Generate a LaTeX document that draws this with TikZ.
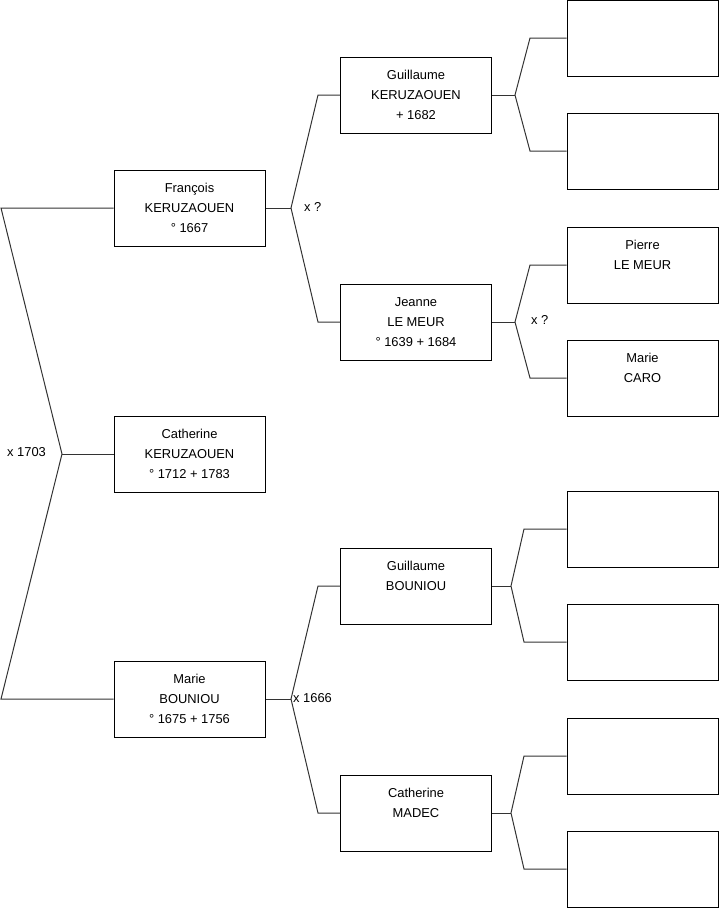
\documentclass[tikz,border=0pt]{standalone}
\usepackage{fontspec}
\setmainfont{Liberation Sans}
\usepackage{tikz}
\usetikzlibrary{positioning}
\definecolor{linkgray}{HTML}{333333}

\begin{document}
\begin{tikzpicture}[
  x=1pt, y=-1pt,
  font=\fontsize{12.9}{20}\selectfont,
  personbox/.style={
    draw=black,
    fill=white,
    line width=1pt,
    minimum width=151pt,
    minimum height=76pt,
    inner sep=2pt,
    align=center
  },
  link/.style={draw=linkgray, line width=1pt, line join=miter},
  union/.style={anchor=west, inner sep=0pt}
]
  \useasboundingbox (0,0) rectangle (719,908);

  % --- GENERATION 1 ---
  \node[personbox] (cath)  at (189.5,454) {Catherine\\KERUZAOUEN\\° 1712 + 1783};
  \node[personbox] (franc) at (189.5,208) {François\\KERUZAOUEN\\° 1667};
  \node[personbox] (marie) at (189.5,699) {Marie\\BOUNIOU\\° 1675 + 1756};

  % --- GENERATION 2 ---
  \node[personbox] (guilK)  at (416,95)  {Guillaume\\KERUZAOUEN\\+ 1682};
  \node[personbox] (jeanne) at (416,322) {Jeanne\\LE MEUR\\° 1639 + 1684};
  \node[personbox] (guilB)  at (416,586) {Guillaume\\BOUNIOU\\~};
  \node[personbox] (cathM)  at (416,813) {Catherine\\MADEC\\~};

  % --- GENERATION 3 ---
  \node[personbox] (e1)     at (642.5,38)  {};
  \node[personbox] (e2)     at (642.5,151) {};
  \node[personbox] (pierre) at (642.5,265) {Pierre\\LE MEUR\\~};
  \node[personbox] (marieC) at (642.5,378) {Marie\\CARO\\~};
  \node[personbox] (e3)     at (642.5,529) {};
  \node[personbox] (e4)     at (642.5,642) {};
  \node[personbox] (e5)     at (642.5,756) {};
  \node[personbox] (e6)     at (642.5,869) {};

  % Bracket vertices and corners
  \coordinate (v0) at (62,454);
  \coordinate (t0) at (1,208);
  \coordinate (b0) at (1,699);
  \coordinate (v1) at (291,208);
  \coordinate (t1) at (318,95);
  \coordinate (b1) at (318,322);
  \coordinate (v2) at (291,699);
  \coordinate (t2) at (318,586);
  \coordinate (b2) at (318,813);
  \coordinate (v3) at (515,95);
  \coordinate (t3) at (530,38);
  \coordinate (b3) at (530,151);
  \coordinate (v4) at (515,322);
  \coordinate (t4) at (530,265);
  \coordinate (b4) at (530,378);
  \coordinate (v5) at (511,586);
  \coordinate (t5) at (524,529);
  \coordinate (b5) at (524,642);
  \coordinate (v6) at (511,813);
  \coordinate (t6) at (524,756);
  \coordinate (b6) at (524,869);

  % Parent links
  \draw[link] (franc.west) -- (t0) -- (v0) -- (b0) -- (marie.west);
  \draw[link] (v0) -- (cath.west);
  \draw[link] (guilK.west) -- (t1) -- (v1) -- (b1) -- (jeanne.west);
  \draw[link] (v1) -- (franc.east);
  \draw[link] (guilB.west) -- (t2) -- (v2) -- (b2) -- (cathM.west);
  \draw[link] (v2) -- (marie.east);
  \draw[link] (e1.west) -- (t3) -- (v3) -- (b3) -- (e2.west);
  \draw[link] (v3) -- (guilK.east);
  \draw[link] (pierre.west) -- (t4) -- (v4) -- (b4) -- (marieC.west);
  \draw[link] (v4) -- (jeanne.east);
  \draw[link] (e3.west) -- (t5) -- (v5) -- (b5) -- (e4.west);
  \draw[link] (v5) -- (guilB.east);
  \draw[link] (e5.west) -- (t6) -- (v6) -- (b6) -- (e6.west);
  \draw[link] (v6) -- (cathM.east);

  % Marriage labels
  \node[union] (m0) at (7,452)   {x 1703};
  \node[union] (m1) at (304,207) {x ?};
  \node[union] (m2) at (293,698) {x 1666};
  \node[union] (m3) at (531,320) {x ?};

\end{tikzpicture}
\end{document}
